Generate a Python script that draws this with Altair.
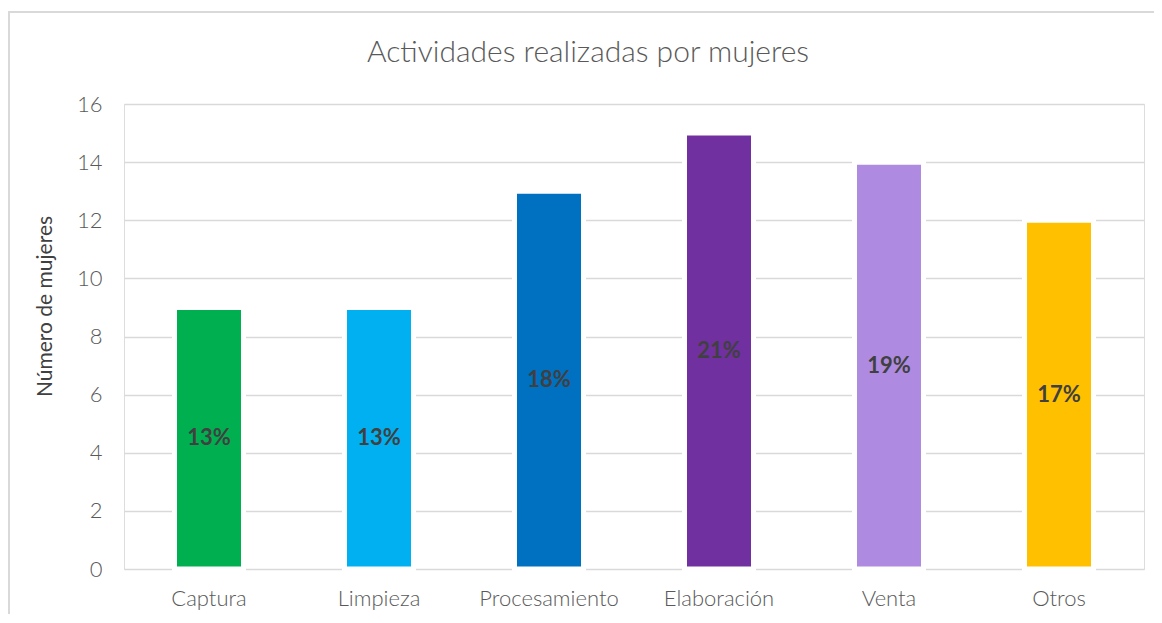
import altair as alt
import pandas as pd

categories = ["Captura", "Limpieza", "Procesamiento", "Elaboración", "Venta", "Otros"]
values = [9, 9, 13, 15, 14, 12]
pct_labels = ["13%", "13%", "18%", "21%", "19%", "17%"]
colors = ["#00B050", "#00B0F0", "#0070C0", "#7030A0", "#AE8BE1", "#FFC000"]
y_ticks = [0, 2, 4, 6, 8, 10, 12, 14, 16]

df = pd.DataFrame({"cat": categories, "val": values, "pct": pct_labels})

FONT = "Lato"
GRAY = "#595959"

x = alt.X("cat:N", sort=categories,
          scale=alt.Scale(paddingInner=0, paddingOuter=0),
          axis=alt.Axis(title=None, labelAngle=0, labelFontSize=22, labelColor=GRAY,
                        labelFont=FONT, labelFontWeight=300, ticks=False, domain=False,
                        labelPadding=19))
y_axis = alt.Axis(values=y_ticks, title="Número de mujeres", titleFontSize=21,
                  titleColor="#404040", titleFont=FONT, titleFontWeight="normal",
                  labelFontSize=22, labelColor=GRAY, labelFont=FONT, labelFontWeight=300,
                  ticks=False, domain=False, labelPadding=22,
                  gridColor="#D9D9D9", gridWidth=1.5,
                  titleX=-79, titleY=202, titleAngle=270, titleAlign="center",
                  titleBaseline="middle")

bars = alt.Chart(df).mark_bar(size=69, stroke="white", strokeWidth=5).encode(
    x=x,
    y=alt.Y("val:Q", scale=alt.Scale(domain=[0, 16], nice=False), axis=y_axis),
    color=alt.Color("cat:N", sort=categories,
                    scale=alt.Scale(domain=categories, range=colors), legend=None),
)

text = alt.Chart(df).transform_calculate(mid="datum.val / 2").mark_text(
    font=FONT, fontSize=22, fontWeight="bold", color="#404040", baseline="middle"
).encode(
    x=alt.X("cat:N", sort=categories),
    y=alt.Y("mid:Q"),
    text="pct:N",
)

border = alt.Chart(alt.Data(values=[{}])).mark_rect(
    filled=False, stroke="#D9D9D9", strokeWidth=2
).encode(
    x=alt.value(-115), x2=alt.value(1100),
    y=alt.value(-92), y2=alt.value(600),
)

chart = alt.layer(border, bars, text).properties(
    width=1020, height=465,
    title=alt.Title("Actividades realizadas por mujeres", font=FONT, fontSize=30,
                    fontWeight=300, color=GRAY, anchor="middle", dx=-46, offset=-57),
    autosize=alt.AutoSizeParams(type="none"),
    padding={"left": 116, "top": 96, "right": 10, "bottom": 45},
).configure_view(stroke=None).configure(background="white")

chart.save("out.html", embed_options={"renderer": "svg", "actions": False})
